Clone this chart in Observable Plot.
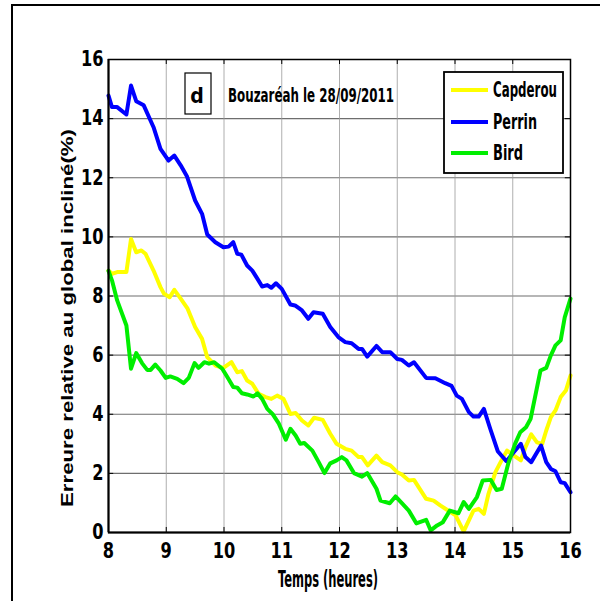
<!DOCTYPE html>
<html>
<head>
<meta charset="utf-8">
<script src="https://cdn.jsdelivr.net/npm/d3@7"></script>
<script src="https://cdn.jsdelivr.net/npm/@observablehq/plot@0.6"></script>
<style>
  html, body { margin: 0; padding: 0; background: #fff; overflow: hidden; }
  #page { position: relative; width: 600px; height: 601px; overflow: hidden; }
  #outer { position: absolute; left: 11px; top: 4px; width: 800px; height: 800px;
           border-left: 2px solid #000; border-top: 2px solid #000; }
  #chart { position: absolute; left: 0; top: 0; }
</style>
</head>
<body>
<div id="page"><div id="outer"></div><div id="chart"></div></div>
<script>
// ---- data ----
const xTicks = [8, 9, 10, 11, 12, 13, 14, 15, 16];
const yTicks = [0, 2, 4, 6, 8, 10, 12, 14, 16];
const seriesNames = ["Capderou", "Perrin", "Bird"];
const seriesColors = ["#ffff00", "#0000ff", "#00ee00"];
const titleText = "Bouzaréah le 28/09/2011";
const panelLetter = "d";
const xLabel = "Temps (heures)";
const yLabel = "Erreure relative au global incliné(%)";

const capT = [8.0,8.06,8.15,8.31,8.39,8.48,8.57,8.64,8.78,8.9,8.96,9.06,9.14,9.25,9.37,9.5,9.62,9.71,9.85,9.99,10.13,10.23,10.31,10.4,10.49,10.6,10.72,10.82,10.92,11.03,11.15,11.24,11.35,11.46,11.56,11.71,11.84,11.95,12.1,12.21,12.33,12.39,12.49,12.64,12.74,12.88,13.0,13.08,13.2,13.29,13.5,13.63,13.75,13.86,14.01,14.15,14.24,14.32,14.41,14.5,14.58,14.7,14.79,14.9,15.02,15.14,15.22,15.32,15.42,15.51,15.58,15.66,15.74,15.83,15.92,16.0];
const capV = [8.86,8.75,8.81,8.81,9.93,9.48,9.54,9.43,8.86,8.30,8.08,7.96,8.21,7.91,7.57,6.95,6.55,5.93,5.65,5.57,5.76,5.42,5.46,5.14,5.03,4.69,4.58,4.52,4.63,4.52,4.01,4.04,3.79,3.62,3.88,3.81,3.34,3.00,2.83,2.77,2.55,2.55,2.27,2.60,2.38,2.27,2.04,1.96,1.76,1.78,1.14,1.08,0.91,0.77,0.58,0.04,0.41,0.74,0.80,0.63,1.31,2.04,2.38,2.77,2.60,2.44,2.89,3.32,3.05,3.0,3.45,3.90,4.13,4.58,4.80,5.31];

const perT = [8.0,8.06,8.15,8.31,8.39,8.48,8.61,8.78,8.9,9.04,9.14,9.25,9.36,9.5,9.62,9.71,9.85,9.99,10.08,10.16,10.23,10.30,10.4,10.49,10.58,10.66,10.75,10.82,10.90,11.0,11.15,11.23,11.35,11.46,11.55,11.71,11.84,11.98,12.1,12.21,12.33,12.39,12.48,12.64,12.74,12.88,13.0,13.08,13.2,13.29,13.5,13.66,13.83,13.94,14.03,14.12,14.24,14.32,14.41,14.5,14.61,14.74,14.89,15.02,15.14,15.22,15.32,15.49,15.58,15.66,15.74,15.83,15.90,16.0];
const perV = [14.78,14.39,14.39,14.14,15.12,14.59,14.45,13.71,12.98,12.58,12.75,12.42,12.04,11.23,10.78,10.08,9.82,9.65,9.67,9.82,9.43,9.40,9.03,8.86,8.58,8.32,8.37,8.28,8.43,8.24,7.71,7.68,7.51,7.23,7.45,7.40,6.95,6.61,6.44,6.40,6.21,6.21,5.95,6.31,6.10,6.10,5.87,5.84,5.65,5.76,5.23,5.22,5.05,4.96,4.63,4.52,4.07,3.92,3.92,4.18,3.51,2.75,2.41,2.72,3.0,2.55,2.38,2.94,2.38,2.15,2.07,1.70,1.67,1.36];

const birT = [8.0,8.06,8.15,8.31,8.39,8.48,8.58,8.67,8.73,8.81,8.9,8.99,9.07,9.19,9.3,9.39,9.49,9.56,9.66,9.74,9.83,9.97,10.06,10.16,10.23,10.31,10.4,10.51,10.58,10.66,10.75,10.84,10.95,11.07,11.15,11.24,11.32,11.39,11.53,11.64,11.74,11.84,11.95,12.04,12.12,12.25,12.39,12.48,12.64,12.71,12.87,12.97,13.08,13.2,13.33,13.5,13.58,13.69,13.79,13.91,14.06,14.15,14.24,14.38,14.48,14.62,14.72,14.81,14.92,15.04,15.13,15.23,15.31,15.48,15.58,15.66,15.74,15.83,15.9,16.0];
const birV = [8.85,8.53,7.85,7.0,5.54,6.07,5.73,5.50,5.50,5.68,5.48,5.23,5.28,5.20,5.05,5.23,5.73,5.57,5.76,5.71,5.76,5.54,5.25,4.92,4.90,4.71,4.67,4.60,4.71,4.52,4.18,4.01,3.68,3.14,3.51,3.28,3.0,3.03,2.77,2.38,2.01,2.34,2.44,2.55,2.44,2.01,1.89,2.01,1.48,1.08,0.99,1.22,0.99,0.74,0.31,0.43,0.07,0.24,0.35,0.74,0.65,1.03,0.80,1.20,1.76,1.78,1.44,1.48,2.32,3.0,3.39,3.56,3.85,5.48,5.57,5.99,6.33,6.50,7.28,7.91];

// ---- build tables ----
const toRows = (T, V) => T.map((t, i) => ({t, v: V[i]}));
const seriesRows = [toRows(capT, capV), toRows(perT, perV), toRows(birT, birV)];

const NARROW = '"Liberation Sans Narrow", "Arial Narrow", "DejaVu Sans Condensed", sans-serif';
const WIDE = '"Liberation Sans", Arial, sans-serif';

const marks = [
  Plot.ruleY(yTicks.slice(1, -1), {stroke: "#6e6e6e", strokeWidth: 1.2}),
  Plot.ruleX(xTicks.slice(1, -1), {stroke: "#9a9a9a", strokeWidth: 0.8}),
];
seriesRows.forEach((rows, i) => {
  marks.push(Plot.line(rows, {x: "t", y: "v", stroke: seriesColors[i], strokeWidth: 4, strokeLinejoin: "round"}));
});
marks.push(
  Plot.ruleX(xTicks, {y1: 0, y2: 0.17, stroke: "#000", strokeWidth: 1}),
  Plot.ruleX(xTicks, {y1: 16, y2: 15.83, stroke: "#000", strokeWidth: 1}),
  Plot.ruleY(yTicks, {x1: 8, x2: 8.09, stroke: "#000", strokeWidth: 1}),
  Plot.ruleY(yTicks, {x1: 16, x2: 15.91, stroke: "#000", strokeWidth: 1}),
  Plot.frame({stroke: "#000", strokeWidth: 1.5}),
  Plot.ruleY([0], {stroke: "#000", strokeWidth: 2}),
  Plot.ruleX([8], {stroke: "#000", strokeWidth: 2}),
  Plot.axisX(xTicks, {tickSize: 0, tickPadding: 10, label: null, fontSize: 18}),
  Plot.axisY(yTicks, {tickSize: 0, tickPadding: 5, label: null, fontSize: 18})
);

const chart = Plot.plot({
  width: 600, height: 601,
  marginLeft: 108, marginRight: 30, marginTop: 59, marginBottom: 69,
  x: {domain: [8, 16]},
  y: {domain: [0, 16]},
  style: {fontFamily: NARROW, fontWeight: "bold", fontSize: "18px", color: "#000", background: "transparent", overflow: "visible"},
  marks
});
document.getElementById("chart").appendChild(chart);

// stretch tick labels vertically about their own anchor (tall condensed digits of the reference)
d3.select(chart).selectAll('g[aria-label="x-axis tick label"] text, g[aria-label="y-axis tick label"] text').each(function () {
  const tr = this.getAttribute("transform") || "";
  const x = parseFloat(this.getAttribute("x")) || 0;
  const y = parseFloat(this.getAttribute("y")) || 0;
  this.setAttribute("transform", `${tr} translate(${x},${y}) scale(1,1.2) translate(${-x},${-y})`);
});

// ---- annotations (legend, title box, axis titles) ----
const svg = d3.select(chart);
const g = svg.append("g").attr("text-anchor", "start");
// title box
g.append("rect").attr("x", 185).attr("y", 73).attr("width", 26).attr("height", 41)
  .attr("fill", "#fff").attr("stroke", "#000").attr("stroke-width", 1.2);
g.append("text").attr("x", 197).attr("y", 103).attr("text-anchor", "middle")
  .attr("font-family", NARROW).attr("font-weight", "bold").attr("font-size", 21).text(panelLetter);
g.append("text").attr("x", 228).attr("y", 101.5).attr("text-anchor", "start")
  .attr("font-family", NARROW).attr("font-weight", "bold").attr("font-size", 20)
  .attr("textLength", 166).attr("lengthAdjust", "spacingAndGlyphs").text(titleText);

// legend
g.append("rect").attr("x", 444).attr("y", 72).attr("width", 119).attr("height", 101)
  .attr("fill", "#fff").attr("stroke", "#000").attr("stroke-width", 1.8);
const legY = [90, 122, 153];
const legW = [64, 44, 30];
seriesNames.forEach((name, i) => {
  g.append("line").attr("x1", 451).attr("x2", 488).attr("y1", legY[i]).attr("y2", legY[i])
    .attr("stroke", seriesColors[i]).attr("stroke-width", 4);
  g.append("text").attr("x", 493).attr("y", legY[i] + 7).attr("text-anchor", "start")
    .attr("font-family", NARROW).attr("font-weight", "bold").attr("font-size", 21)
    .attr("textLength", legW[i]).attr("lengthAdjust", "spacingAndGlyphs").text(name);
});

// axis titles
g.append("text").attr("x", 328).attr("y", 587).attr("text-anchor", "middle")
  .attr("font-family", NARROW).attr("font-weight", "bold").attr("font-size", 23)
  .attr("textLength", 100).attr("lengthAdjust", "spacingAndGlyphs").text(xLabel);
g.append("text").attr("transform", "translate(73,318) rotate(-90)").attr("text-anchor", "middle")
  .attr("font-family", WIDE).attr("font-weight", "bold").attr("font-size", 17)
  .attr("textLength", 378).attr("lengthAdjust", "spacingAndGlyphs").text(yLabel);
</script>
</body>
</html>
